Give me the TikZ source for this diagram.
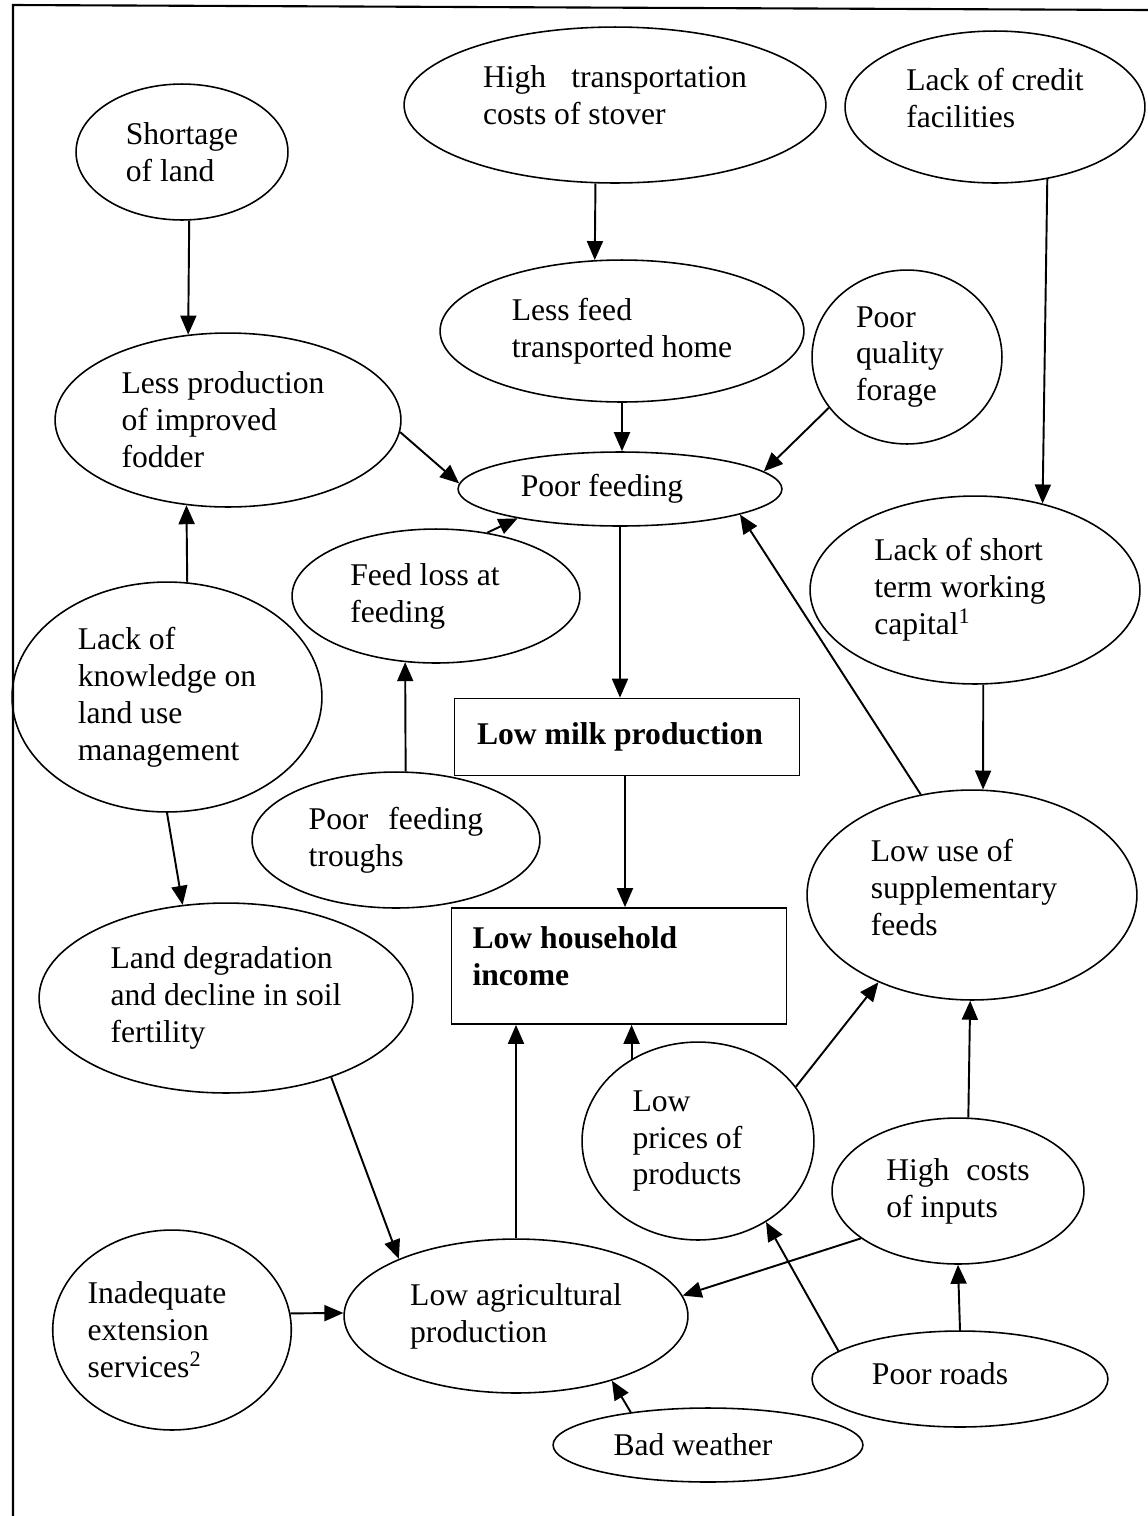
\documentclass[tikz,border=0pt]{standalone}
\usepackage{fontspec}
\setmainfont{Liberation Serif}
\usepackage{tikz}
\usetikzlibrary{arrows.meta,shapes.geometric}
\tikzset{
  oval/.style args={#1/#2}{ellipse, draw, line width=0.9pt, inner sep=0pt, align=left,
    minimum width=#1*0.04cm, minimum height=#2*0.04cm},
  box/.style={rectangle, draw, line width=1pt, inner sep=0pt, font=\fontsize{18}{21}\selectfont\bfseries},
  cause/.style={-{Triangle[length=3.8mm,width=3.2mm]}, line width=1.1pt},
  frame/.style={line width=1.2pt},
}

\begin{document}
\begin{tikzpicture}[x=0.02cm, y=-0.02cm, font=\fontsize{18}{21}\selectfont]
  \useasboundingbox (0,0) rectangle (1148,1516);
  \draw[frame] (13,1516) -- (13,5) -- (1148,10);

  \node[oval={106/68}] (land) at (182,152) {Shortage\\of land};
  \node[oval={211/78}] (stover) at (615,105) {High\hspace{0.5cm}transportation\\costs of stover\\[-0.34cm]};
  \node[oval={150/76}] (credit) at (995,107) {Lack of credit\\facilities\\[-0.38cm]};
  \node[oval={182/71}] (lessfeed) at (622,331) {Less feed\\transported home};
  \node[oval={95/87}] (quality) at (907,357) {Poor\\quality\kern0.28cm\\forage};
  \node[oval={173/87}] (fodder) at (228,420) {Less production\hspace*{0.2cm}\\of improved\\fodder};
  \node[oval={162/37}] (feeding) at (620,489) {Poor feeding\hspace*{0.72cm}};
  \node[oval={144/67}] (loss) at (436,596) {Feed loss at\hspace*{0.44cm}\\feeding};
  \node[oval={165/94}] (capital) at (975,590) {Lack of short\\term working\kern0.6cm\\capital\textsuperscript{1}};
  \node[oval={155/115}] (know) at (167,697) {Lack of\\knowledge on\\land use\\management};
  \node[oval={144/68}] (troughs) at (396,840) {Poor\hspace{0.4cm}feeding\\troughs};
  \node[oval={165/105}] (supp) at (972,895) {Low use of\\supplementary\kern0.32cm\\feeds\\[-0.42cm]};
  \node[oval={187/95}] (degrad) at (226,998) {Land degradation\\and decline in soil\\fertility};
  \node[oval={116/99}] (prices) at (698,1141) {Low\\prices of\\products\hspace*{0.44cm}};
  \node[oval={126/73}] (inputs) at (958,1191) {High\hspace{0.34cm}costs\\of inputs};
  \node[oval={115/100}] (ext) at (172,1330) {Inadequate\hspace*{0.6cm}\\extension\\services\textsuperscript{2}};
  \node[oval={172/77}] (agri) at (516,1316) {Low agricultural\\production};
  \node[oval={148/48}] (roads) at (960,1379) {Poor roads\hspace*{0.8cm}\\[-0.5cm]};
  \node[oval={155/37}] (weather) at (708,1445) {Bad weather\hspace*{0.6cm}};

  \node[box, minimum width=6.9cm, minimum height=1.54cm] (milk) at (627,737) {Low milk production\hspace*{0.28cm}};
  \node[box, minimum width=6.7cm, minimum height=2.32cm] (income) at (619,966)
    {\parbox[c][1.56cm][t]{5.86cm}{Low household\\income}};

  \draw[cause] (land.-84) -- (fodder.115);
  \draw[cause] (stover.-104) -- (lessfeed.111);
  \draw[cause] (credit.-54) -- (capital.52);
  \draw[cause] (lessfeed.south) -- (lessfeed.south |- feeding.north);
  \draw[cause] (quality.-147) -- (feeding.7);
  \draw[cause] (fodder.-4) -- (feeding.178);
  \draw[cause] (know.80) -- (fodder.-116);
  \draw[cause] (loss.51) -- (feeding.-164);
  \draw[cause] (feeding.south) -- (feeding.south |- milk.north);
  \draw[cause] (troughs.82) -- (loss.-115);
  \draw[cause] (capital.-85) -- (supp.84);
  \draw[cause] (supp.117) -- (feeding.-12);
  \draw[cause] (know.south) -- (degrad.115);
  \draw[cause] ([xshift=-0.04cm]milk.south) -- ([xshift=-0.04cm]milk.south |- income.north);
  \draw[cause] (degrad.-37) -- (agri.154);
  \draw[cause] (agri.north) -- (agri.north |- income.south);
  \draw[cause] (prices.129) -- (prices.129 |- income.south);
  \draw[cause] (prices.29) -- (supp.-137);
  \draw[cause] (inputs.82) -- (supp.-91);
  \draw[cause] (inputs.-154) -- (agri.7);
  \draw[cause] (ext.8) -- (agri.179);
  \draw[cause] (roads.167) -- (prices.-50);
  \draw[cause] (roads.north) -- (inputs.south);
  \draw[cause] (weather.157) -- (agri.-34);
\end{tikzpicture}
\end{document}
